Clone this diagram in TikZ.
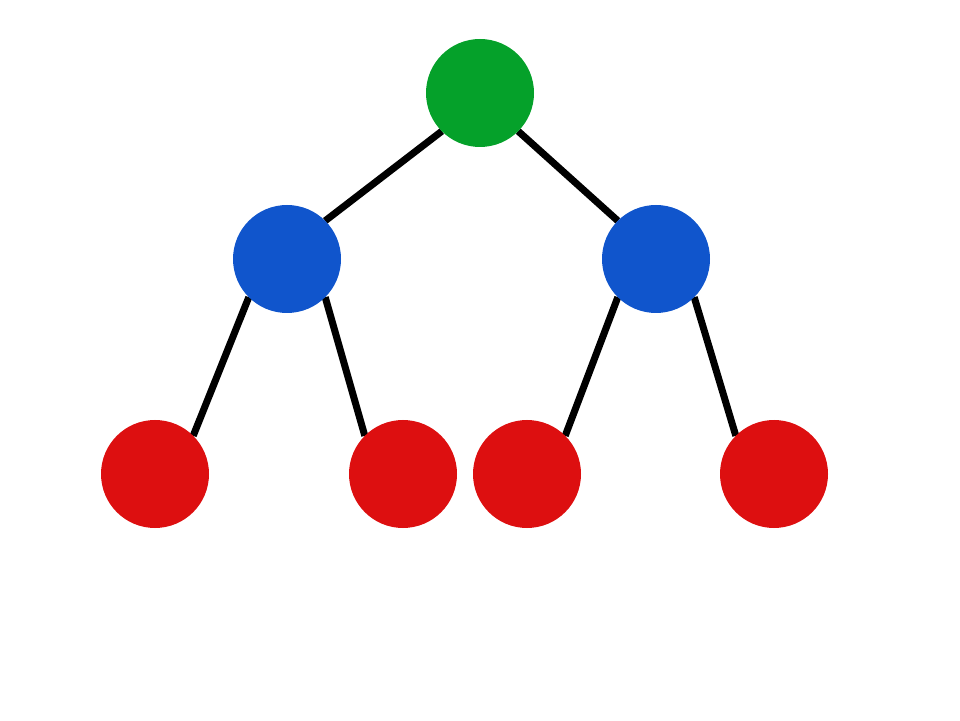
\documentclass[tikz,border=0pt]{standalone}
\usepackage{tikz,tikz-network}
\usetikzlibrary{arrows, calc}

\definecolor{rootgreen}{RGB}{5,161,42}
\definecolor{midblue}{RGB}{16,85,204}
\definecolor{leafred}{RGB}{221,15,16}

\begin{document}
\begin{tikzpicture}[scale=1,transform shape]
  %\draw (0, 0) grid (19.2, 14.4);
  \useasboundingbox (0,0) rectangle (19.2,14.4);

  \SetVertexStyle[LineWidth=0pt,LineOpacity=0,MinSize=2.16cm]
  \Vertex[x=9.6  ,y=12.54,size=2.16,color=rootgreen,NoLabel]{r}
  \Vertex[x=5.74 ,y=9.22, size=2.16,color=midblue,NoLabel]{b1}
  \Vertex[x=13.12,y=9.22, size=2.16,color=midblue,NoLabel]{b2}
  \Vertex[x=3.10 ,y=4.92, size=2.16,color=leafred,NoLabel]{l1}
  \Vertex[x=8.06 ,y=4.92, size=2.16,color=leafred,NoLabel]{l2}
  \Vertex[x=10.54,y=4.92, size=2.16,color=leafred,NoLabel]{l3}
  \Vertex[x=15.48,y=4.92, size=2.16,color=leafred,NoLabel]{l4}

  % edges leave and enter at the diagonal anchors
  \SetEdgeStyle[LineWidth=4pt,Color=black]
  \Edge(r.south west)(b1.north east)
  \Edge(r.south east)(b2.north west)
  \Edge(b1.south west)(l1.north east)
  \Edge(b1.south east)(l2.north west)
  \Edge(b2.south west)(l3.north east)
  \Edge(b2.south east)(l4.north west)

\end{tikzpicture}
\end{document}
